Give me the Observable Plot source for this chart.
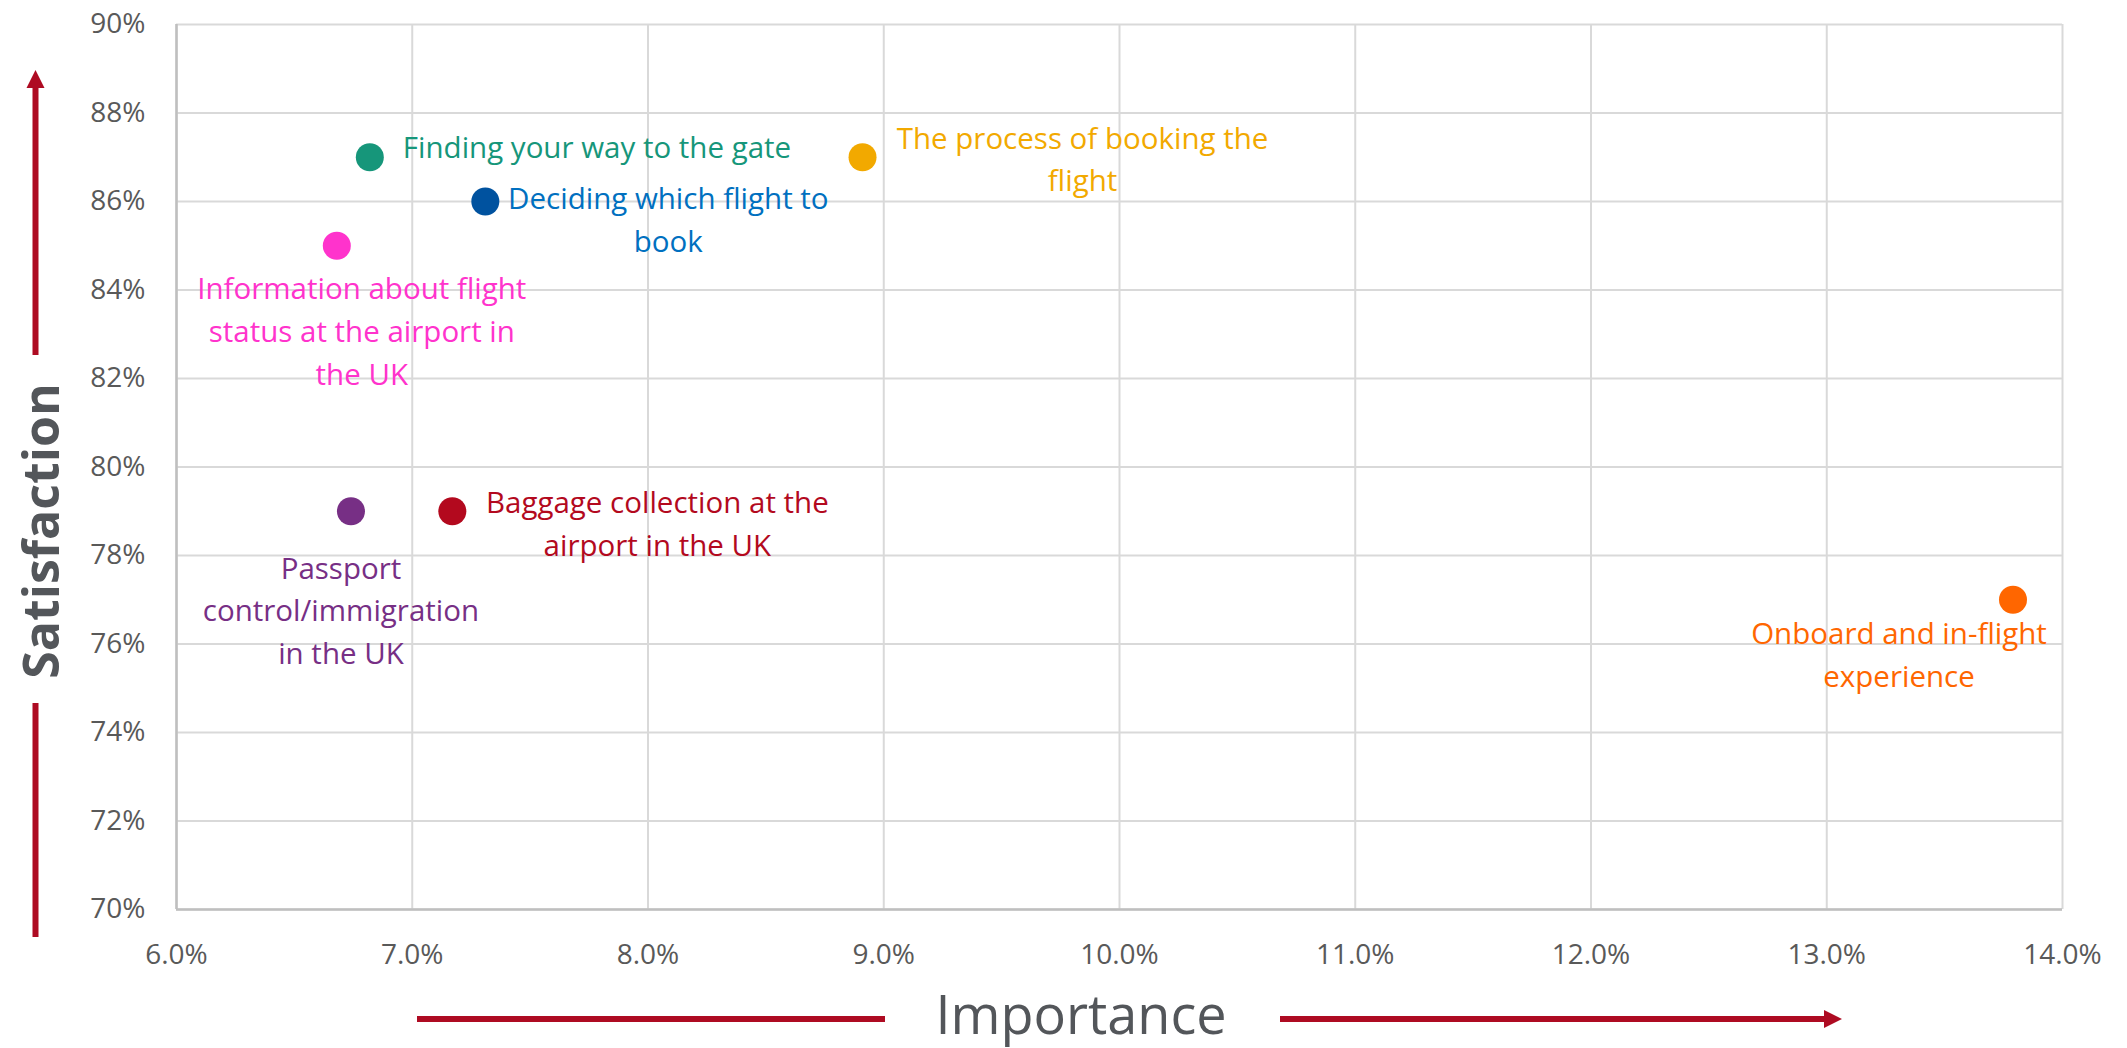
<!DOCTYPE html>
<html><head><meta charset="utf-8">
<script src="https://cdn.jsdelivr.net/npm/d3@7"></script>
<script src="https://cdn.jsdelivr.net/npm/@observablehq/plot@0.6"></script>
<style>html,body{margin:0;padding:0;background:#fff;} #chart{width:2127px;height:1048px;}</style>
</head><body><div id="chart"></div>
<script>
// ---- data ----
const categories = [
  "Finding your way to the gate",
  "Deciding which flight to book",
  "The process of booking the flight",
  "Information about flight status at the airport in the UK",
  "Passport control/immigration in the UK",
  "Baggage collection at the airport in the UK",
  "Onboard and in-flight experience"
];
const labelText = [
  "Finding your way to the gate",
  "Deciding which flight to\nbook",
  "The process of booking the\nflight",
  "Information about flight\nstatus at the airport in\nthe UK",
  "Passport\ncontrol/immigration\nin the UK",
  "Baggage collection at the\nairport in the UK",
  "Onboard and in-flight\nexperience"
];
const importance   = [0.0682, 0.0731, 0.0891, 0.0668, 0.0674, 0.0717, 0.1379];
const satisfaction = [0.87, 0.86, 0.87, 0.85, 0.79, 0.79, 0.77];
const xTicks = [0.06, 0.07, 0.08, 0.09, 0.10, 0.11, 0.12, 0.13, 0.14];
const yTicks = [0.70, 0.72, 0.74, 0.76, 0.78, 0.80, 0.82, 0.84, 0.86, 0.88, 0.90];
const xTitle = "Importance";
const yTitle = "Satisfaction";

// ---- styles ----
const dotColors   = ["#16967A", "#00529F", "#F2A900", "#FF33CC", "#772F85", "#B3091E", "#FF6600"];
const labelColors = ["#16967A", "#0070C0", "#F2A900", "#FF33CC", "#772F85", "#B3091E", "#FF6600"];
const labelLayout = [
  {dx: 33,   dy: -13, anchor: "start"},
  {dx: 183,  dy: 15,  anchor: "middle"},
  {dx: 220,  dy: -1,  anchor: "middle"},
  {dx: 25,   dy: 82.5, anchor: "middle"},
  {dx: -10,  dy: 96.5, anchor: "middle"},
  {dx: 205,  dy: 9.5, anchor: "middle"},
  {dx: -114, dy: 52,  anchor: "middle"}
];
const FONT = "'Open Sans', 'Noto Sans', sans-serif";
const arrowColor = "#AE0B22";
const titleColor = "#53565A";

const data = categories.map((c, i) => ({
  category: c, label: labelText[i], importance: importance[i], satisfaction: satisfaction[i], i
}));

const W = 2127, H = 1048;
const chart = Plot.plot({
  width: W, height: H,
  marginLeft: 176, marginRight: 65, marginTop: 24, marginBottom: 139,
  style: {fontFamily: FONT, background: "#fff", color: "#595959", overflow: "visible"},
  x: {domain: [0.06, 0.14]},
  y: {domain: [0.70, 0.90]},
  marks: [
    Plot.gridX(xTicks, {stroke: "#D9D9D9", strokeOpacity: 1, strokeWidth: 2}),
    Plot.gridY(yTicks, {stroke: "#D9D9D9", strokeOpacity: 1, strokeWidth: 2}),
    Plot.ruleX([0.06], {stroke: "#BFBFBF", strokeWidth: 2.5}),
    Plot.ruleY([0.70], {stroke: "#BFBFBF", strokeWidth: 2.5}),
    Plot.axisX(xTicks, {tickSize: 0, tickPadding: 35, fontSize: 28, fill: "#595959", label: null, tickFormat: d3.format(".1%")}),
    Plot.axisY(yTicks, {tickSize: 0, tickPadding: 31, fontSize: 28, fill: "#595959", label: null, tickFormat: d3.format(".0%")}),
    Plot.dot(data, {x: "importance", y: "satisfaction", r: 14, fill: d => dotColors[d.i], stroke: "none"}),
    ...data.map((d, i) => Plot.text([d], {
      x: "importance", y: "satisfaction", text: "label",
      dx: labelLayout[i].dx, dy: labelLayout[i].dy, textAnchor: labelLayout[i].anchor,
      fill: labelColors[i], fontSize: 29.5, lineHeight: 1.45, fontFamily: FONT
    }))
  ]
});

const svg = d3.select(chart);
// left vertical arrow (Satisfaction)
svg.append("line").attr("x1", 35.5).attr("x2", 35.5).attr("y1", 355).attr("y2", 84)
  .attr("stroke", arrowColor).attr("stroke-width", 6);
svg.append("polygon").attr("points", "35.5,70 26.5,88 44.5,88").attr("fill", arrowColor);
svg.append("line").attr("x1", 35.5).attr("x2", 35.5).attr("y1", 703).attr("y2", 937)
  .attr("stroke", arrowColor).attr("stroke-width", 6);
svg.append("text").text(yTitle)
  .attr("transform", "translate(59,531) rotate(-90)")
  .attr("text-anchor", "middle").attr("fill", titleColor)
  .attr("font-family", FONT).attr("font-weight", 700).attr("font-size", 50);
// bottom horizontal arrow (Importance)
svg.append("line").attr("x1", 417).attr("x2", 885).attr("y1", 1019).attr("y2", 1019)
  .attr("stroke", arrowColor).attr("stroke-width", 6);
svg.append("line").attr("x1", 1280).attr("x2", 1828).attr("y1", 1019).attr("y2", 1019)
  .attr("stroke", arrowColor).attr("stroke-width", 6);
svg.append("polygon").attr("points", "1842,1019 1824,1010 1824,1028").attr("fill", arrowColor);
svg.append("text").text(xTitle)
  .attr("x", 1081).attr("y", 1034)
  .attr("text-anchor", "middle").attr("fill", titleColor)
  .attr("font-family", FONT).attr("font-weight", 500).attr("font-size", 54);

document.getElementById("chart").appendChild(chart);
</script>
</body></html>
